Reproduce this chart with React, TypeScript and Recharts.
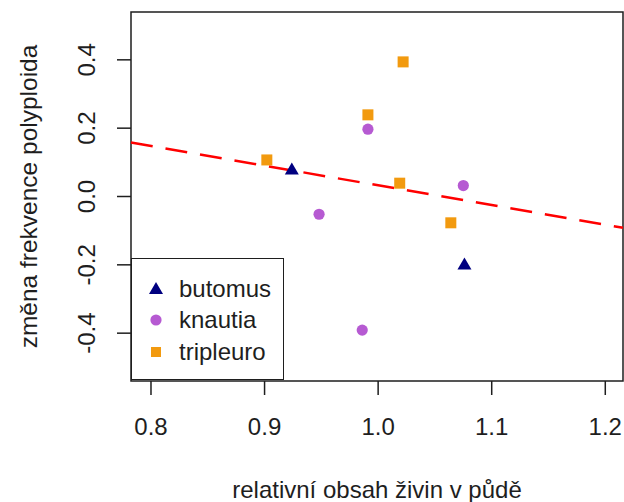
import {
  ScatterChart,
  Scatter,
  XAxis,
  YAxis,
  ReferenceLine,
  ReferenceArea,
} from "recharts"

// nutrient ratio (x) vs. change of polyploid frequency (y), per species
const butomusX = [0.924, 1.076]
const butomusY = [0.082, -0.196]
const knautiaX = [0.948, 0.991, 1.075, 0.986]
const knautiaY = [-0.052, 0.197, 0.032, -0.391]
const tripleuroX = [0.902, 1.022, 0.991, 1.019, 1.064]
const tripleuroY = [0.107, 0.394, 0.239, 0.039, -0.077]

// fitted trend line, ends at the plot edges
const trendX = [0.7824, 1.2156]
const trendY = [0.158, -0.0915]

const xTicks = [0.8, 0.9, 1.0, 1.1, 1.2]
const yTicks = [-0.4, -0.2, 0.0, 0.2, 0.4]
const xDomain = [0.7824, 1.2156]
const yDomain = [-0.54, 0.54]

const NAVY = "#000080"
const ORCHID = "#B65AD2"
const ORANGE = "#F29A0F"
const INK = "#1e1e1e"
const FONT = "'Liberation Sans', Arial, sans-serif"

const zip = (xs: number[], ys: number[]) => xs.map((x, i) => ({ x, y: ys[i] }))

const Triangle = ({ cx, cy }: { cx?: number; cy?: number }) => {
  if (cx == null || cy == null) return null
  return <polygon points={`${cx - 7},${cy + 6} ${cx + 7},${cy + 6} ${cx},${cy - 6}`} fill={NAVY} />
}

const Dot = ({ cx, cy }: { cx?: number; cy?: number }) => {
  if (cx == null || cy == null) return null
  return <circle cx={cx} cy={cy} r={5.6} fill={ORCHID} />
}

const Square = ({ cx, cy }: { cx?: number; cy?: number }) => {
  if (cx == null || cy == null) return null
  return <rect x={cx - 5.5} y={cy - 5.5} width={11} height={11} fill={ORANGE} />
}

const YTick = ({ x, y, payload }: { x?: number; y?: number; payload?: { value: number } }) => (
  <text
    transform={`translate(${x},${y}) rotate(-90)`}
    textAnchor="middle"
    fill={INK}
    fontSize={24}
    fontFamily={FONT}
  >
    {payload ? payload.value.toFixed(1) : ""}
  </text>
)

const legendItems = [
  { name: "butomus", icon: <polygon points="2,13 16,13 9,1" fill={NAVY} /> },
  { name: "knautia", icon: <circle cx={9} cy={8} r={5.6} fill={ORCHID} /> },
  { name: "tripleuro", icon: <rect x={4} y={3} width={10} height={10} fill={ORANGE} /> },
]

export default function App() {
  return (
    <div style={{ position: "absolute", left: 0, top: 0, width: 624, height: 502, background: "#fff" }}>
      <ScatterChart width={624} height={502} margin={{ top: 12, right: 1, left: 0, bottom: 0 }}>
        <XAxis
          type="number"
          dataKey="x"
          domain={xDomain}
          ticks={xTicks}
          allowDataOverflow
          axisLine={false}
          tickSize={14}
          tickMargin={23}
          tickLine={{ stroke: INK, strokeWidth: 1.5 }}
          tickFormatter={(v: number) => v.toFixed(1)}
          tick={{ fill: INK, fontSize: 24, fontFamily: FONT }}
          height={121}
          label={{
            content: ({ viewBox }: any) => (
              <text
                x={viewBox.x + viewBox.width / 2}
                y={viewBox.y + 117}
                textAnchor="middle"
                fill={INK}
                fontSize={24}
                fontFamily={FONT}
              >
                relativní obsah živin v půdě
              </text>
            ),
          }}
        />
        <YAxis
          type="number"
          dataKey="y"
          domain={yDomain}
          ticks={yTicks}
          allowDataOverflow
          axisLine={false}
          tickSize={14}
          tickMargin={22}
          tickLine={{ stroke: INK, strokeWidth: 1.5 }}
          tick={<YTick />}
          width={131}
          label={{
            content: ({ viewBox }: any) => (
              <text
                transform={`translate(37,${viewBox.y + viewBox.height / 2}) rotate(-90)`}
                textAnchor="middle"
                fill={INK}
                fontSize={24.5}
                fontFamily={FONT}
              >
                změna frekvence polyploida
              </text>
            ),
          }}
        />
        <ReferenceArea
          x1={xDomain[0]}
          x2={xDomain[1]}
          y1={yDomain[0]}
          y2={yDomain[1]}
          fill="none"
          stroke={INK}
          strokeWidth={1.5}
          fillOpacity={0}
        />
        <Scatter data={zip(butomusX, butomusY)} shape={<Triangle />} isAnimationActive={false} />
        <Scatter data={zip(knautiaX, knautiaY)} shape={<Dot />} isAnimationActive={false} />
        <Scatter data={zip(tripleuroX, tripleuroY)} shape={<Square />} isAnimationActive={false} />
        <ReferenceLine
          segment={[
            { x: trendX[0], y: trendY[0] },
            { x: trendX[1], y: trendY[1] },
          ]}
          stroke="#ff0000"
          strokeWidth={2.5}
          strokeDasharray="22 13"
        />
      </ScatterChart>
      <div
        style={{
          position: "absolute",
          left: 131,
          top: 258,
          width: 153,
          height: 122,
          boxSizing: "border-box",
          border: `1.5px solid ${INK}`,
          background: "#fff",
          fontFamily: FONT,
          fontSize: 24,
          color: INK,
          paddingTop: 14,
        }}
      >
        {legendItems.map((item) => (
          <div key={item.name} style={{ display: "flex", alignItems: "center", height: 31.5 }}>
            <svg width={18} height={16} style={{ marginLeft: 15, marginRight: 14 }}>
              {item.icon}
            </svg>
            <span>{item.name}</span>
          </div>
        ))}
      </div>
    </div>
  )
}
